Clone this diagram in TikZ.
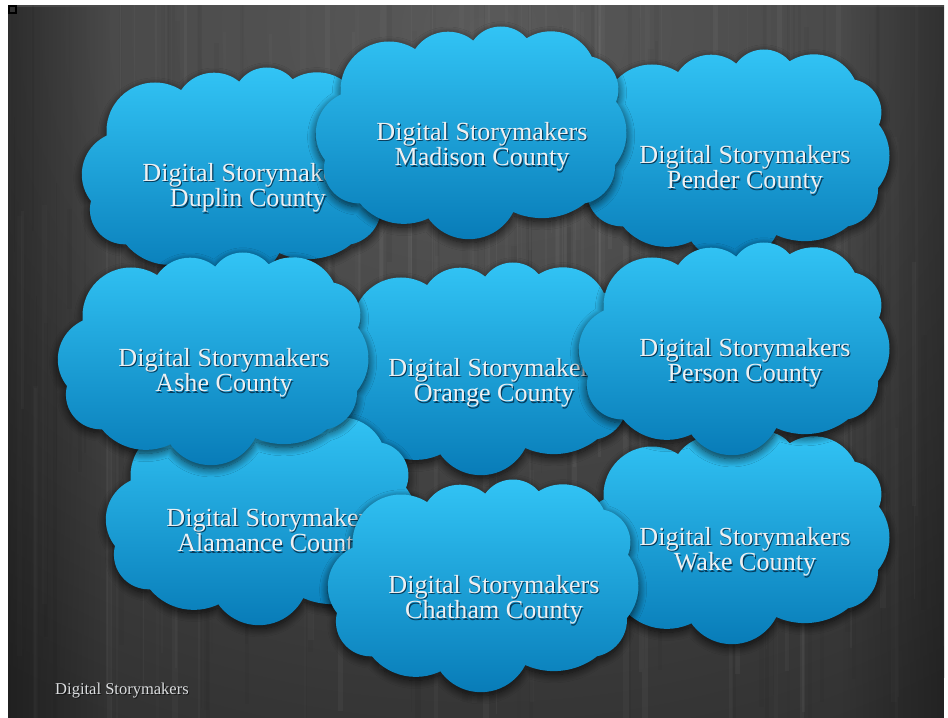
\documentclass[tikz,border=0pt]{standalone}
\usepackage{fontspec}
\setmainfont{Liberation Serif}
\usetikzlibrary{shadows.blur,fadings}

% keep the two label lines at the fixed baseline distance
\lineskiplimit=-20pt

\definecolor{bgbase}{RGB}{50,50,50}
\definecolor{bgglow}{RGB}{90,90,90}
\definecolor{cloudtop}{RGB}{50,196,245}
\definecolor{cloudmid}{RGB}{26,166,226}
\definecolor{cloudbot}{RGB}{8,124,184}
\definecolor{labelwhite}{RGB}{238,240,242}
\definecolor{labelshade}{RGB}{6,60,92}
\definecolor{footershade}{RGB}{20,20,20}

\tikzset{
  cloudbody/.style={nonzero rule,
    top color=cloudtop, middle color=cloudmid, bottom color=cloudbot,
    blur shadow={shadow xshift=0pt, shadow yshift=-3pt,
                 shadow blur radius=7pt, shadow opacity=75, shadow blur steps=12}},
  cloudtext/.style={text=labelwhite, align=center, inner sep=0pt,
    font=\fontsize{22.3pt}{21.6pt}\selectfont},
  footertext/.style={text=labelwhite!92!black, inner sep=0pt, anchor=base west,
    font=\fontsize{14.1pt}{16pt}\selectfont},
}

% a line of text with a soft dark copy set just below and to the right
\newcommand{\shadowed}[2]{\rlap{\kern0.9pt\raisebox{-1.2pt}{\textcolor{#1}{#2}}}#2}

% One cloud with its two-line label.
% #1 node name, #2 centre x, #3 centre y measured from the top edge, #4 county line
\newcommand{\storycloud}[4]{%
  \begin{scope}[shift={({#2},{717-#3})}]
    \path[cloudbody]
      % inner polygon through the notches between the bumps (counter-clockwise,
      % like the circles, so that everything adds up under the nonzero rule)
      (-129,40) -- (-144,-25) -- (-109,-68.3) -- (-40.7,-83.3) -- (44.3,-77)
        -- (116,-68.3) -- (146,-30) -- (147,33.3) -- (122.7,78.3)
        -- (57.7,96.7) -- (4.3,94.3) -- (-54,85.7) -- cycle
      % the bumps
      (-80,45)      circle[radius=48.5]
      (-20.9,63.4)  circle[radius=39.9]
      (31.9,74.5)   circle[radius=34]
      (81.9,58.2)   circle[radius=45.5]
      (116.2,45.7)  circle[radius=33.2]
      (106.5,2.3)   circle[radius=51]
      (108.6,-31.6) circle[radius=37.4]
      (72.9,-12.9)  circle[radius=70.2]
      (-0.1,-54.4)  circle[radius=49.8]
      (-65.2,-32)   circle[radius=56.9]
      (-110.4,-33.6) circle[radius=34.7]
      (-110.4,1.5)  circle[radius=42.8];
    \node[cloudtext] (#1) at (13,-12.5)
      {\shadowed{labelshade}{Digital Storymakers}\\\shadowed{labelshade}{#4}};
  \end{scope}}

\begin{document}
\begin{tikzpicture}[x=0.03cm, y=0.03cm]
  \useasboundingbox (0,0) rectangle (948,717);
  \fill[white] (0,0) rectangle (948,717);

  % dark brushed backdrop
  \begin{scope}
    \clip (8,-5) rectangle (944,711);
    \fill[bgbase] (8,-5) rectangle (944,711);
    \shade[inner color=bgglow, outer color=bgbase] (480,690) ellipse[x radius=900, y radius=760];
    \pgfmathsetseed{17}
    \foreach \i in {1,...,240}{
      \pgfmathsetmacro{\sx}{8+rnd*936}
      \pgfmathsetmacro{\sw}{0.8+rnd*5}
      \pgfmathsetmacro{\sy}{rnd*600-100}
      \pgfmathsetmacro{\sl}{80+rnd*500}
      \pgfmathsetmacro{\so}{0.012+rnd*0.03}
      \pgfmathparse{rnd<0.5 ? "white" : "black"}
      \fill[\pgfmathresult, opacity=\so] (\sx,\sy) rectangle ++(\sw,\sl);
    }
    \fill[black, opacity=0.35, path fading=east] (8,-5) rectangle (110,711);
    \fill[black, opacity=0.3, path fading=west] (842,-5) rectangle (944,711);
  \end{scope}

  % small square mark in the top-left corner
  \node[draw=black, line width=1.6pt, fill=bgbase, minimum size=6.5pt, inner sep=0pt]
    (corner) at (12.5,707.5) {};

  % clouds, back to front
  \storycloud{duplin}{235}{176}{Duplin County}
  \storycloud{pender}{732}{158}{Pender County}
  \storycloud{madison}{469}{135}{Madison County}
  \storycloud{orange}{481}{371}{Orange County}
  \storycloud{wake}{732}{540}{Wake County}
  \storycloud{person}{732}{351}{Person County}
  \storycloud{alamance}{259}{521}{Alamance County}
  \storycloud{ashe}{211}{361}{Ashe County}
  \storycloud{chatham}{481}{588}{Chatham County}

  % footer
  \node[footertext] (footer) at (55,23) {\shadowed{footershade}{Digital Storymakers}};
\end{tikzpicture}
\end{document}
